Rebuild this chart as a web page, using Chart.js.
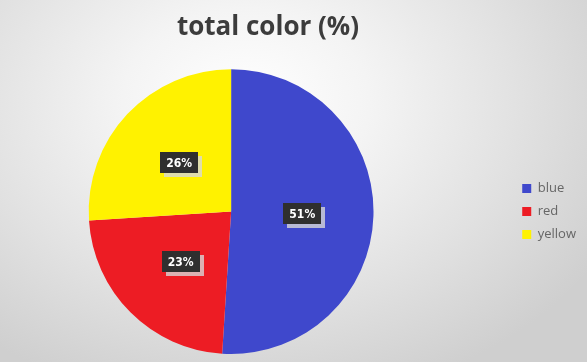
<!DOCTYPE html>
<html>
<head>
<meta charset="utf-8">
<script src="https://cdn.jsdelivr.net/npm/chart.js@4.4.0/dist/chart.umd.min.js"></script>
<style>
  html, body { margin: 0; padding: 0; }
  body {
    width: 587px; height: 362px; overflow: hidden;
    background: radial-gradient(ellipse 70% 85% at 42% 28%, #ffffff 0%, #f4f4f4 30%, #e2e2e2 65%, #cfcfcf 100%);
  }
  #wrap { position: relative; width: 587px; height: 362px; overflow: hidden; }
  /* canvas is a bit wider than the page so the pie sits left of the title centre */
  #pieChart { position: absolute; left: -50px; top: 0; }
</style>
</head>
<body>
<div id="wrap"><canvas id="pieChart" width="637" height="362"></canvas></div>
<script>
// colour shares
const labels = ['blue', 'red', 'yellow'];
const shares = [51, 23, 26];
const colors = ['#3f48cc', '#ed1c24', '#fff200'];

// dark value boxes drawn on each slice
const valueBoxes = {
  id: 'valueBoxes',
  afterDatasetsDraw(chart) {
    const ctx = chart.ctx;
    const meta = chart.getDatasetMeta(0);
    ctx.save();
    ctx.font = 'bold 12px "DejaVu Sans Condensed", "DejaVu Sans", sans-serif';
    ctx.textAlign = 'center';
    ctx.textBaseline = 'middle';
    meta.data.forEach(function(arc, i) {
      const p = arc.tooltipPosition();
      const text = shares[i] + '%';
      const w = 38, h = 21;
      const x = Math.round(p.x - w / 2), y = Math.round(p.y - h / 2);
      // soft shadow under the box
      ctx.fillStyle = 'rgba(215,215,215,0.8)';
      ctx.fillRect(x + 4, y + 4, w, h);
      ctx.fillStyle = '#2f2f2f';
      ctx.fillRect(x, y, w, h);
      ctx.fillStyle = '#ffffff';
      ctx.fillText(text, p.x, p.y + 1);
    });
    ctx.restore();
  }
};

var ctx = document.getElementById('pieChart').getContext('2d');
var myChart = new Chart(ctx, {
  type: 'pie',
  data: {
    labels: labels,
    datasets: [{
      data: shares,
      backgroundColor: colors,
      borderWidth: 0
    }]
  },
  options: {
    responsive: false,
    animation: false,
    layout: { padding: { left: 0, right: 1, top: 0, bottom: 8 } },
    plugins: {
      tooltip: { enabled: false },
      title: {
        display: true,
        text: 'total color (%)',
        color: '#3c3c3c',
        font: { size: 26, weight: 'bold', family: '"Open Sans"' },
        padding: { top: 12, bottom: 26 }
      },
      legend: {
        position: 'right',
        fullSize: false,
        labels: {
          boxWidth: 9,
          boxHeight: 9,
          padding: 10,
          color: '#666666',
          font: { size: 13, family: '"Open Sans"' }
        }
      }
    }
  },
  plugins: [valueBoxes]
});
</script>
</body>
</html>
